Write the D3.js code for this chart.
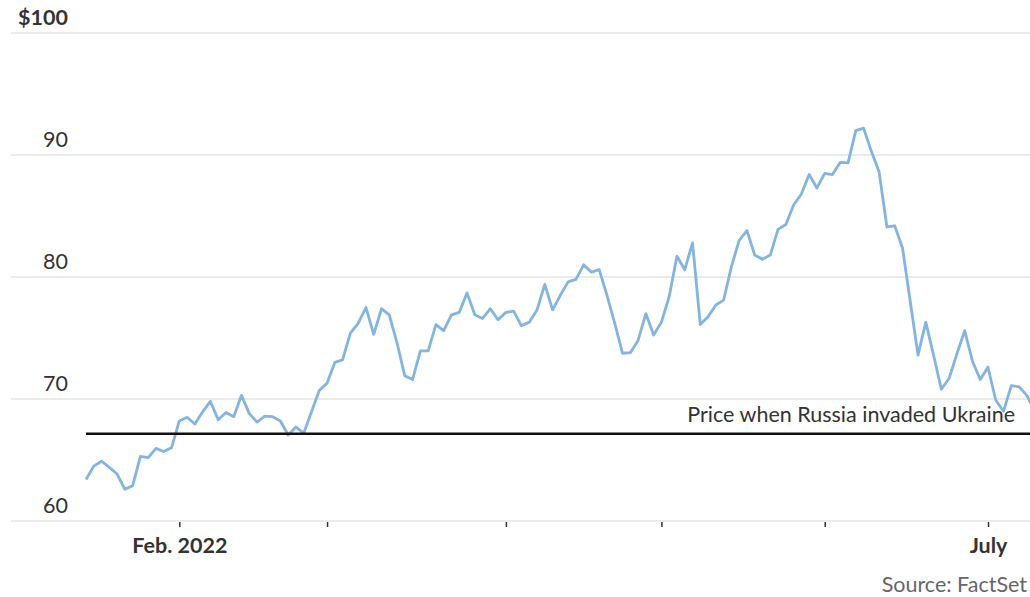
<!DOCTYPE html>
<html lang="en">
<head>
    <meta charset="UTF-8">
    <title>Oil price</title>
    <script src="https://d3js.org/d3.v7.min.js"></script>
    <style>
        body { margin: 0; background: #fff; }
        text { font-family: Lato, "Open Sans", sans-serif; }
    </style>
</head>
<body>

<script>
    // closing prices, one per trading day from Jan. 13, 2022
    prices = [
        63.4, 64.5, 64.9, 64.4, 63.85, 62.6, 62.9, 65.3, 65.2, 65.95, 65.7, 66.0,
        68.2, 68.5, 67.95, 68.95, 69.8, 68.3, 68.9, 68.55, 70.3, 68.8, 68.1, 68.6,
        68.55, 68.2, 67.05, 67.7, 67.2, 68.95, 70.7,
        71.3, 73.0, 73.2, 75.4, 76.2, 77.5, 75.3, 77.4, 76.9, 74.6, 71.9, 71.6,
        73.95, 73.95, 76.1, 75.6, 76.9, 77.1, 78.7, 76.9, 76.6, 77.4, 76.5,
        77.1, 77.2, 76.0, 76.3, 77.3, 79.4, 77.3, 78.5, 79.6, 79.8, 81.0, 80.4,
        80.6, 78.5, 76.2, 73.75, 73.8, 74.8, 77.0, 75.25,
        76.3, 78.4, 81.7, 80.6, 82.8, 76.1, 76.75, 77.7, 78.1, 80.85, 83.0,
        83.8, 81.8, 81.45, 81.8, 83.9, 84.3, 85.9, 86.8, 88.4, 87.3,
        88.5, 88.4, 89.4, 89.35, 92.0, 92.2, 90.3, 88.6, 84.1, 84.2, 82.4,
        78.0, 73.6, 76.3, 73.6, 70.8, 71.7, 73.7, 75.6, 73.1, 71.6,
        72.6, 69.9, 69.0, 71.1, 71.0, 70.3, 69.0
    ]

    // market holidays in the period
    holidays = ["2022-01-17", "2022-02-21", "2022-04-15", "2022-05-30", "2022-06-20", "2022-07-04"]

    yTicks = [60, 70, 80, 90, 100]
    invadedPrice = 67.15

    fmt = d3.utcFormat("%Y-%m-%d")
    days = d3.utcDay.range(new Date(Date.UTC(2022, 0, 13)), new Date(Date.UTC(2022, 6, 13)))
        .filter(d => d.getUTCDay() != 0 && d.getUTCDay() != 6 && holidays.indexOf(fmt(d)) < 0)
    data = prices.map((p, i) => ({date: fmt(days[i]), price: p}))

    // first trading day of each month, Feb. to July
    monthStarts = data.filter((d, i) => i > 0 && d.date.slice(5, 7) != data[i - 1].date.slice(5, 7))
        .map(d => d.date)
    monthLabels = {"2022-02-01": "Feb. 2022", "2022-07-01": "July"}

    w = 1030
    h = 597
    fs = 21.5

    svg = d3.select("body")
        .append("svg")
        .attr("width", w)
        .attr("height", h)

    step = (988 - 86) / 116
    x = d3.scalePoint()
        .domain(data.map(d => d.date))
        .range([86, 86 + step * (data.length - 1)])

    y = d3.scaleLinear()
        .domain([60, 100])
        .range([521, 33])

    // gridlines
    svg.append("g")
        .selectAll("line")
        .data(yTicks)
        .join("line")
        .attr("x1", 11)
        .attr("x2", w)
        .attr("y1", d => y(d))
        .attr("y2", d => y(d))
        .attr("stroke", "#e5e5e5")
        .attr("stroke-width", 1.5)

    svg.append("g")
        .selectAll("text")
        .data(yTicks)
        .join("text")
        .attr("x", 68)
        .attr("y", d => y(d) - 8)
        .attr("text-anchor", "end")
        .attr("font-size", fs)
        .attr("font-weight", d => d == 100 ? "bold" : "normal")
        .attr("fill", "#333")
        .text(d => d == 100 ? "$" + d : d)

    // x axis
    xAxis = svg.append("g")
        .attr("transform", "translate(0," + y(60) + ")")
        .call(d3.axisBottom(x).tickValues(monthStarts).tickSize(6).tickPadding(11)
            .tickFormat(d => monthLabels[d] || ""))
    xAxis.select(".domain").remove()
    xAxis.selectAll(".tick line").attr("stroke", "#333").attr("stroke-width", 1.5).attr("y1", 1)
    xAxis.selectAll(".tick text")
        .attr("font-family", "Lato, sans-serif")
        .attr("font-size", fs)
        .attr("font-weight", "bold")
        .attr("fill", "#333")

    line = d3.line()
        .x(d => x(d.date))
        .y(d => y(d.price))

    svg.append("path")
        .datum(data)
        .attr("d", line)
        .attr("fill", "none")
        .attr("stroke", "#82b4e4")
        .attr("stroke-width", 2.8)
        .attr("stroke-linejoin", "round")

    // invasion reference line
    svg.append("line")
        .attr("x1", x(data[0].date))
        .attr("x2", w)
        .attr("y1", y(invadedPrice))
        .attr("y2", y(invadedPrice))
        .attr("stroke", "#111")
        .attr("stroke-width", 2.5)

    svg.append("text")
        .attr("x", 1015)
        .attr("y", y(invadedPrice) - 12)
        .attr("text-anchor", "end")
        .attr("font-size", fs)
        .attr("fill", "#333")
        .text("Price when Russia invaded Ukraine")

    svg.append("text")
        .attr("x", 1027)
        .attr("y", 592)
        .attr("text-anchor", "end")
        .attr("font-size", fs)
        .attr("fill", "#666")
        .text("Source: FactSet")

</script>

</body>
</html>
